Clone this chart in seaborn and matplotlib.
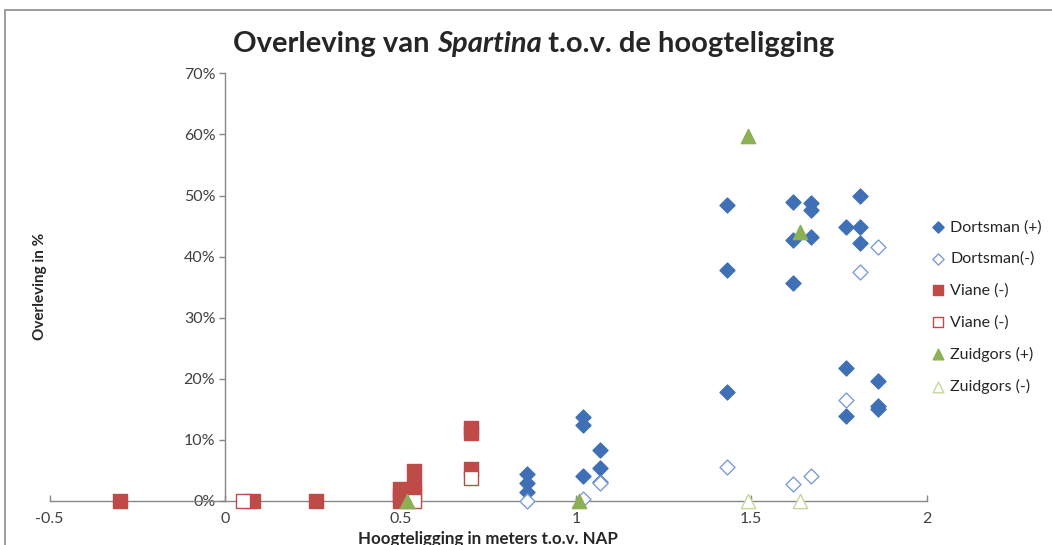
import numpy as np
import pandas as pd
import matplotlib
matplotlib.use("Agg")
import matplotlib.pyplot as plt
import seaborn as sns
from matplotlib.ticker import PercentFormatter
from matplotlib.patches import Rectangle

# data (hoogte in m t.o.v. NAP, overleving in %)
dortsman_plus_x = [0.86, 0.86, 0.86, 1.02, 1.02, 1.02, 1.07, 1.07, 1.07,
                   1.43, 1.43, 1.43, 1.62, 1.62, 1.62, 1.67, 1.67, 1.67,
                   1.77, 1.77, 1.77, 1.81, 1.81, 1.81, 1.86, 1.86, 1.86]
dortsman_plus_y = [4.4, 2.9, 1.5, 13.7, 12.5, 4.1, 8.3, 5.4, 3.1,
                   48.5, 37.8, 17.9, 48.9, 42.7, 35.7, 48.7, 47.7, 43.2,
                   44.8, 21.7, 13.9, 50.0, 44.8, 42.2, 19.6, 15.5, 15.1]

dortsman_min_x = [0.86, 1.02, 1.07, 1.43, 1.62, 1.67, 1.77, 1.81, 1.86]
dortsman_min_y = [0.0, 0.3, 2.9, 5.6, 2.8, 4.1, 16.6, 37.4, 41.6]

viane_vol_x = [-0.30, 0.08, 0.26, 0.50, 0.50, 0.50, 0.54, 0.54, 0.54, 0.70, 0.70, 0.70]
viane_vol_y = [0.0, 0.0, 0.0, 0.0, 1.0, 2.0, 1.5, 2.4, 4.9, 11.9, 11.1, 5.3]

viane_open_x = [0.05, 0.54, 0.70]
viane_open_y = [0.0, 0.0, 3.7]

zuidgors_plus_x = [0.52, 1.01, 1.49, 1.64]
zuidgors_plus_y = [0.0, 0.0, 59.7, 44.0]

zuidgors_min_x = [1.49, 1.64]
zuidgors_min_y = [0.0, 0.0]

x_ticks = [-0.5, 0, 0.5, 1, 1.5, 2]
x_tick_labels = ["-0.5", "0", "0.5", "1", "1.5", "2"]
y_ticks = [0, 10, 20, 30, 40, 50, 60, 70]

# kleuren in excel-stijl
blauw = "#3F6FB5"
blauw_licht = "#7C9DD3"
rood = "#BE4B48"
groen = "#8CB054"
groen_licht = "#C4D79E"
as_kleur = "#868686"
tekst_kleur = "#404040"

sns.set_style("white")
plt.rcParams["font.family"] = ["Lato", "DejaVu Sans"]

fig = plt.figure(figsize=(10.52, 5.45), dpi=100)
ax = fig.add_axes([49.6 / 1052, 1 - 501 / 545, (926.7 - 49.6) / 1052, (501 - 73.3) / 545])

# reeksen: (x, y, label, marker, vulling, randkleur, grootte)
reeksen = [
    (dortsman_plus_x, dortsman_plus_y, "Dortsman (+)", "D", blauw, blauw, 58),
    (dortsman_min_x, dortsman_min_y, "Dortsman(-)", "D", "white", blauw_licht, 58),
    (viane_vol_x, viane_vol_y, "Viane (-)", "s", rood, rood, 105),
    (viane_open_x, viane_open_y, "Viane (-)", "s", "white", rood, 105),
    (zuidgors_plus_x, zuidgors_plus_y, "Zuidgors (+)", "^", groen, groen, 105),
    (zuidgors_min_x, zuidgors_min_y, "Zuidgors (-)", "^", "white", groen_licht, 105),
]

for xs, ys, label, marker, vulling, rand, grootte in reeksen:
    df = pd.DataFrame({"x": xs, "y": ys})
    sns.scatterplot(data=df, x="x", y="y", ax=ax, marker=marker, s=grootte,
                    facecolor=vulling, edgecolor=rand, linewidth=1.0,
                    label=label, clip_on=False, zorder=3)

# assen zoals in excel: y-as op x=0
ax.set_xlim(-0.5, 2)
ax.set_ylim(0, 70)
ax.spines["left"].set_position(("data", 0))
ax.spines["top"].set_visible(False)
ax.spines["right"].set_visible(False)
for kant in ["left", "bottom"]:
    ax.spines[kant].set_color(as_kleur)
    ax.spines[kant].set_linewidth(1.0)

ax.set_xticks(x_ticks)
ax.set_xticklabels(x_tick_labels)
ax.set_yticks(y_ticks)
ax.yaxis.set_major_formatter(PercentFormatter(100, decimals=0))
ax.tick_params(axis="x", direction="in", length=4, width=1, color=as_kleur,
               labelsize=11.5, labelcolor=tekst_kleur, pad=8, bottom=True)
ax.tick_params(axis="y", direction="out", length=4, width=1, color=as_kleur,
               labelsize=11.5, labelcolor=tekst_kleur, pad=3, left=True)
ax.set_xlabel("")
ax.set_ylabel("")
ax.grid(False)

# aslabels
fig.text(488 / 1052, 1 - 531 / 545, "Hoogteligging in meters t.o.v. NAP",
         ha="center", va="top", fontsize=12.2, fontweight="bold")
fig.text(40 / 1052, 1 - 286 / 545, "Overleving in %", rotation=90,
         ha="center", va="center", fontsize=11, fontweight="bold")

# titel met cursieve Spartina
titel_grootte = 21
t1 = fig.text(233 / 1052, 1 - 57 / 545, "Overleving van ", fontsize=titel_grootte,
              fontweight="bold", ha="left", va="bottom")
t2 = ax.annotate("Spartina", xy=(1, 0), xycoords=t1, fontsize=titel_grootte,
                 fontweight="bold", style="italic", ha="left", va="bottom")
t3 = ax.annotate(" t.o.v. de hoogteligging", xy=(1, 0), xycoords=t2,
                 fontsize=titel_grootte, fontweight="bold", ha="left", va="bottom")

# legenda rechts
ax.legend(loc="center left", bbox_to_anchor=(931 / 1052, 1 - 307 / 545),
          bbox_transform=fig.transFigure, frameon=False, fontsize=11.5,
          labelspacing=1.08, handlelength=0.9, handletextpad=0.3,
          markerscale=0.75, borderaxespad=0, borderpad=0)

# grijze rand rond de grafiek
fig.patches.append(Rectangle((5 / 1052, -0.1), 1.2, 1 - 10 / 545 + 0.1,
                             transform=fig.transFigure, fill=False,
                             edgecolor="#8C8C8C", linewidth=1.2))

plt.savefig("out.png", dpi=100)
